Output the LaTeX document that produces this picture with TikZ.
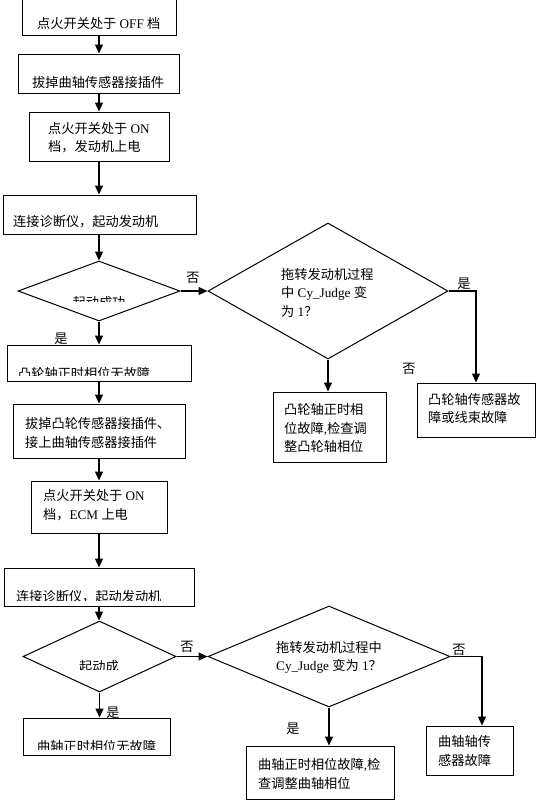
\documentclass[tikz,border=0pt]{standalone}
\usepackage{fontspec}
\setmainfont{Liberation Serif}
\newfontfamily\cjkf{Noto Sans CJK SC}
\newcommand\zh[1]{{\cjkf #1}}
\usetikzlibrary{arrows.meta,shapes.geometric}
\begin{document}
\begin{tikzpicture}[x=1pt,y=-1pt,
  box/.style={draw,line width=1pt,rectangle,inner sep=0pt},
  dia/.style={draw,line width=1pt,diamond,inner sep=0pt},
  txt/.style={inner sep=0pt,align=left,font=\fontsize{13.2}{18.5}\selectfont},
  lbl/.style={inner sep=0pt,font=\fontsize{13.2}{15}\selectfont},
  arr/.style={line width=1.2pt,-{Triangle[length=9pt,width=8pt]}},
  ln/.style={line width=1.2pt}]
\useasboundingbox (0,0) rectangle (536,804);
% boxes
\node[box,minimum width=154pt,minimum height=45pt] (b1) at (99,12.5) {};
\node[box,minimum width=161pt,minimum height=39pt] (b2) at (98.5,73.5) {};
\node[box,minimum width=140pt,minimum height=49pt] (b3) at (99,136.5) {};
\node[box,minimum width=193pt,minimum height=39pt] (b4) at (99.5,214.5) {};
\node[dia,minimum width=162pt,minimum height=60pt] (d1) at (99,291) {};
\node[dia,minimum width=240pt,minimum height=136pt] (d2) at (328,291) {};
\node[box,minimum width=184pt,minimum height=36pt] (b5) at (99,363) {};
\node[box,minimum width=113pt,minimum height=70pt] (bcp) at (329.5,427) {};
\node[box,minimum width=118pt,minimum height=54pt] (bcs) at (476,410) {};
\node[box,minimum width=172pt,minimum height=54pt] (b6) at (99,431) {};
\node[box,minimum width=136pt,minimum height=52pt] (b7) at (99,507) {};
\node[box,minimum width=190pt,minimum height=38pt] (b8) at (99,587) {};
\node[dia,minimum width=153pt,minimum height=71pt] (d3) at (99.5,656.5) {};
\node[dia,minimum width=242pt,minimum height=101pt] (d4) at (329,656.5) {};
\node[box,minimum width=147pt,minimum height=37pt] (b9) at (96.5,736.5) {};
\node[box,minimum width=148pt,minimum height=53pt] (bkp) at (320,772.5) {};
\node[box,minimum width=87pt,minimum height=49pt] (bks) at (469.5,750.5) {};
% texts
\node[txt,anchor=west] (t1) at (37,24) {\zh{点火开关处于} OFF \zh{档}};
\node[txt,anchor=west] (t2) at (32,82) {\zh{拔掉曲轴传感器接插件}};
\node[txt,anchor=west] (t3) at (48,137.5) {\zh{点火开关处于} ON\\\zh{档，发动机上电}};
\node[txt,anchor=west] (t4) at (13,222) {\zh{连接诊断仪，起动发动机}};
\begin{scope}
\clip (20,280) rectangle (180,301.5);
\node[txt] (td1) at (99,303) {\zh{起动成功}};
\end{scope}
\node[txt,anchor=west] (td2) at (281,292.5) {\zh{拖转发动机过程}\\\zh{中} Cy\_Judge \zh{变}\\\zh{为} 1\zh{？}};
\begin{scope}
\clip (8,346) rectangle (190,375.5);
\node[txt,anchor=west] (t5) at (18,373.5) {\zh{凸轮轴正时相位无故障}};
\end{scope}
\node[txt,anchor=west] (tcp) at (284,428) {\zh{凸轮轴正时相}\\\zh{位故障},\zh{检查调}\\\zh{整凸轮轴相位}};
\node[txt,anchor=west] (tcs) at (428,408.5) {\zh{凸轮轴传感器故}\\\zh{障或线束故障}};
\node[txt,anchor=west] (t6) at (25,433) {\zh{拔掉凸轮传感器接插件、}\\\zh{接上曲轴传感器接插件}};
\node[txt,anchor=west] (t7) at (43,505) {\zh{点火开关处于} ON\\\zh{档，}ECM \zh{上电}};
\begin{scope}
\clip (5,569) rectangle (193,600.5);
\node[txt,anchor=west] (t8) at (16,597) {\zh{连接诊断仪，起动发动机}};
\end{scope}
\begin{scope}
\clip (30,640) rectangle (170,669);
\node[txt] (td3) at (99,666.5) {\zh{起动成}};
\end{scope}
\node[txt,anchor=west] (td4) at (276,657.5) {\zh{拖转发动机过程中}\\Cy\_Judge \zh{变为} 1\zh{？}};
\begin{scope}
\clip (24,719) rectangle (169,749);
\node[txt,anchor=west] (t9) at (37,746) {\zh{曲轴正时相位无故障}};
\end{scope}
\node[txt,anchor=west] (tkp) at (258,774) {\zh{曲轴正时相位故障},\zh{检}\\\zh{查调整曲轴相位}};
\node[txt,anchor=west] (tks) at (438,751) {\zh{曲轴轴传}\\\zh{感器故障}};
% labels
\node[lbl] (l1) at (193,278) {\zh{否}};
\node[lbl] (l2) at (464,284) {\zh{是}};
\node[lbl] (l3) at (409,369) {\zh{否}};
\node[lbl] (l4) at (61,339) {\zh{是}};
\node[lbl] (l5) at (187,647) {\zh{否}};
\node[lbl] (l6) at (459,650) {\zh{否}};
\node[lbl] (l7) at (113,713) {\zh{是}};
\node[lbl] (l8) at (293,729) {\zh{是}};
% connectors
\draw[arr] (b1.south) -- (b1.south |- b2.north);
\draw[arr] (b1.south |- b2.south) -- (b1.south |- b3.north);
\draw[arr] (b3.south) -- (b3.south |- b4.north);
\draw[arr] (b3.south |- b4.south) -- (d1.north);
\draw[arr] (d1.east) -- (d2.west);
\draw[arr] (d1.south) -- (b5.north);
\draw[ln,-{Triangle[length=9pt,width=8pt]}] (d2.east) -| (bcs.north);
\draw[arr] (d2.south) -- (d2.south |- bcp.north);
\draw[arr] (b5.south) -- (b6.north);
\draw[arr] (b6.south) -- (b7.north);
\draw[arr] (b7.south) -- (b8.north);
\draw[arr] (b8.south) -- (b8.south |- d3.north);
\draw[arr] (d3.east) -- (d4.west);
\draw[arr] (d3.south) -- (d3.south |- b9.north);
\draw[arr] (d4.south) -- (d4.south |- bkp.north);
\coordinate (ksin) at ([xshift=12.5pt]bks.north);
\draw[arr] (d4.east) -| (ksin);
\end{tikzpicture}
\end{document}
